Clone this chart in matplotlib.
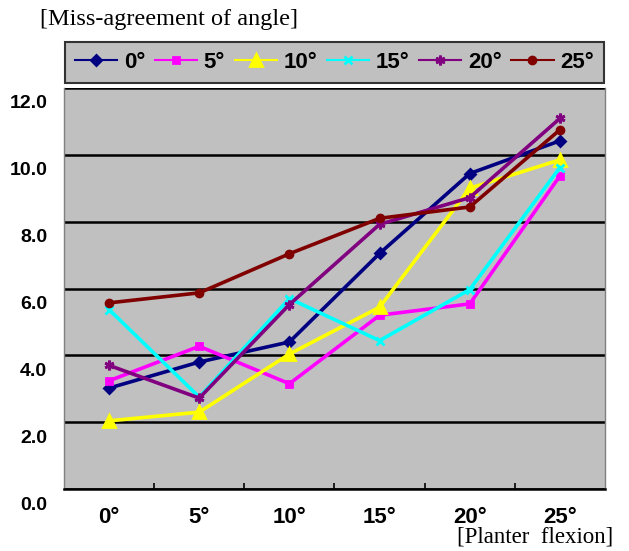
import matplotlib
matplotlib.use('Agg')
import matplotlib.pyplot as plt
import matplotlib.transforms as mtransforms
import numpy as np

# planter flexion categories (x axis)
categories = ['0°', '5°', '10°', '15°', '20°', '25°']
# series names (legend)
series_names = ['0°', '5°', '10°', '15°', '20°', '25°']

s0 = [3.02, 3.80, 4.40, 7.05, 9.44, 10.42]
s5 = [3.24, 4.27, 3.15, 5.20, 5.54, 9.37]
s10 = [2.04, 2.30, 4.04, 5.44, 9.00, 9.85]
s15 = [5.37, 2.75, 5.70, 4.44, 5.97, 9.62]
s20 = [3.70, 2.72, 5.52, 7.92, 8.72, 11.09]
s25 = [5.57, 5.87, 7.04, 8.10, 8.44, 10.75]

y_ticks = [0, 2, 4, 6, 8, 10, 12]

colors = ['#000080', '#FF00FF', '#FFFF00', '#00FFFF', '#800080', '#800000']
markers = ['D', 's', '^', 'x', (6, 2, 0), 'o']
msizes = [5, 5, 8, 6, 7, 5]

bold_font = ['Liberation Sans', 'DejaVu Sans']
serif_font = ['Liberation Serif', 'DejaVu Serif']

fig = plt.figure(figsize=(6.29, 5.51), dpi=100)
ax = fig.add_axes([64 / 629, 62 / 551, 541 / 629, 401 / 551])
ax.set_facecolor('#C0C0C0')

x = np.arange(len(categories))
data = [s0, s5, s10, s15, s20, s25]
for i in range(len(data)):
    ax.plot(x, data[i], color=colors[i], lw=2.6, marker=markers[i],
            ms=msizes[i], mew=2, mfc=colors[i], mec=colors[i],
            label=series_names[i], zorder=3)

ax.set_xlim(-0.5, len(categories) - 0.5)
ax.set_ylim(0, 12)

ax.set_yticks(y_ticks)
ax.set_yticklabels(['%.1f' % v for v in y_ticks], fontsize=14,
                   fontweight='bold', family=bold_font)
ax.tick_params(axis='y', length=0, pad=12)
off = mtransforms.ScaledTranslation(0, -14 / 100, fig.dpi_scale_trans)
for lab in ax.get_yticklabels():
    lab.set_transform(lab.get_transform() + off)

ax.set_xticks(x)
ax.set_xticklabels(categories, fontsize=16, fontweight='bold', family=bold_font)
ax.tick_params(axis='x', which='major', length=0, pad=13)
ax.set_xticks(np.arange(len(categories) - 1) + 0.5, minor=True)
ax.tick_params(axis='x', which='minor', direction='in', length=4, width=1.2, color='black')

ax.grid(axis='y', color='black', lw=1.8, zorder=1)
ax.set_axisbelow(True)
for side in ['left', 'right']:
    ax.spines[side].set_color('#808080')
    ax.spines[side].set_linewidth(1)
ax.spines['top'].set_visible(False)
ax.spines['bottom'].set_color('black')
ax.spines['bottom'].set_linewidth(1.8)

leg = fig.legend(loc='lower left', ncol=6, mode='expand',
                 bbox_to_anchor=(65 / 629, (551 - 83) / 551, 539 / 629, 43 / 551),
                 prop={'family': bold_font, 'weight': 'bold', 'size': 16},
                 handlelength=1.9, handletextpad=0.3, borderaxespad=0,
                 fancybox=False, framealpha=1, borderpad=0.45)
leg.get_frame().set_facecolor('#C0C0C0')
leg.get_frame().set_edgecolor('#333333')
leg.get_frame().set_linewidth(1.5)
for h in leg.legend_handles:
    h.set_linewidth(1.5)

fig.text(40 / 629, 1 - 19 / 551, '[Miss-agreement of angle]', family=serif_font,
         fontsize=17.5, va='center', ha='left')
fig.text(613 / 629, 1 - 537 / 551, '[Planter  flexion]', family=serif_font,
         fontsize=16.5, va='center', ha='right')

fig.savefig('out.png', dpi=100)
